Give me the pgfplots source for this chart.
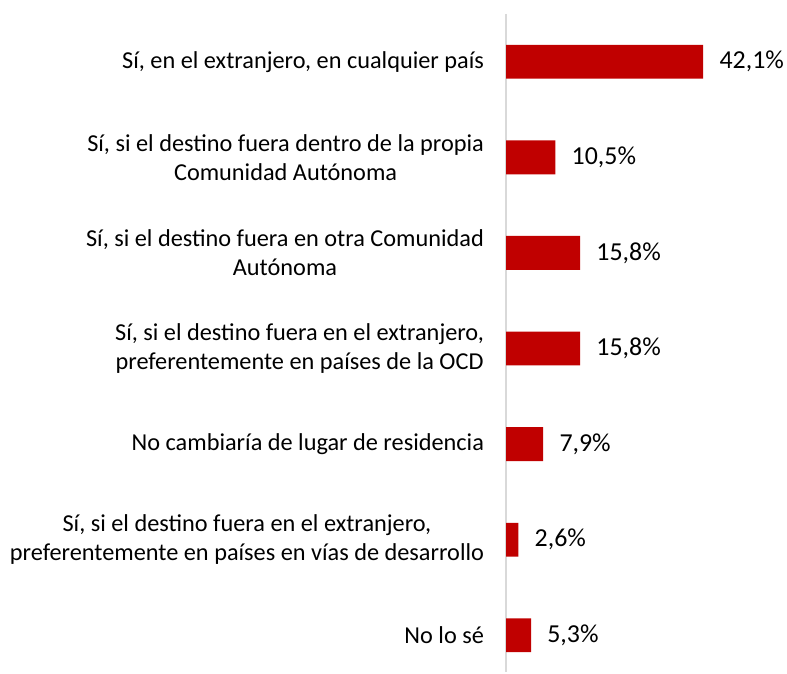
\documentclass[border=0pt]{standalone}
\usepackage{pgfplots}
\pgfplotsset{compat=1.18}
\usepackage{fontspec}
\setmainfont{Carlito}
\definecolor{barred}{HTML}{C00000}
\definecolor{axisgray}{HTML}{D9D9D9}
\begin{document}
\fontsize{12}{14.5}\selectfont
\begin{tikzpicture}
\begin{axis}[
    xbar,
    scale only axis,
    width=141pt, height=330.5pt,
    xmin=0, xmax=60,
    ymin=-0.5, ymax=6.385,
    y dir=reverse,
    axis x line=none,
    axis y line*=left,
    y axis line style={axisgray, line width=1pt, -},
    ytick={0,...,6},
    yticklabels={
        {Sí, en el extranjero, en cualquier país},
        {Sí, si el destino fuera dentro de la propia\\Comunidad Autónoma},
        {Sí, si el destino fuera en otra Comunidad\\Autónoma},
        {Sí, si el destino fuera en el extranjero,\\preferentemente en países de la OCD},
        {No cambiaría de lugar de residencia},
        {Sí, si el destino fuera en el extranjero,\\preferentemente en países en vías de desarrollo},
        {No lo sé}},
    major tick length=0pt,
    yticklabel style={align=center, font=\fontsize{12.2}{14.5}\selectfont, text=black, inner sep=0pt, xshift=-11pt},
    bar width=17pt,
    point meta=explicit symbolic,
    nodes near coords,
    nodes near coords style={anchor=west, inner sep=0pt, xshift=8pt, font=\fontsize{13}{15}\selectfont, text=black},
    clip=false]
\addplot[fill=barred, draw=none] coordinates {
    (42.1,0) [42,1\%]
    (10.5,1) [10,5\%]
    (15.8,2) [15,8\%]
    (15.8,3) [15,8\%]
    (7.9,4)  [7,9\%]
    (2.6,5)  [2,6\%]
    (5.3,6)  [5,3\%]
};
\end{axis}
\path ([yshift=7pt]current axis.north east);
\path ([xshift=-5pt]current axis.outer south west);
\end{tikzpicture}
\end{document}
